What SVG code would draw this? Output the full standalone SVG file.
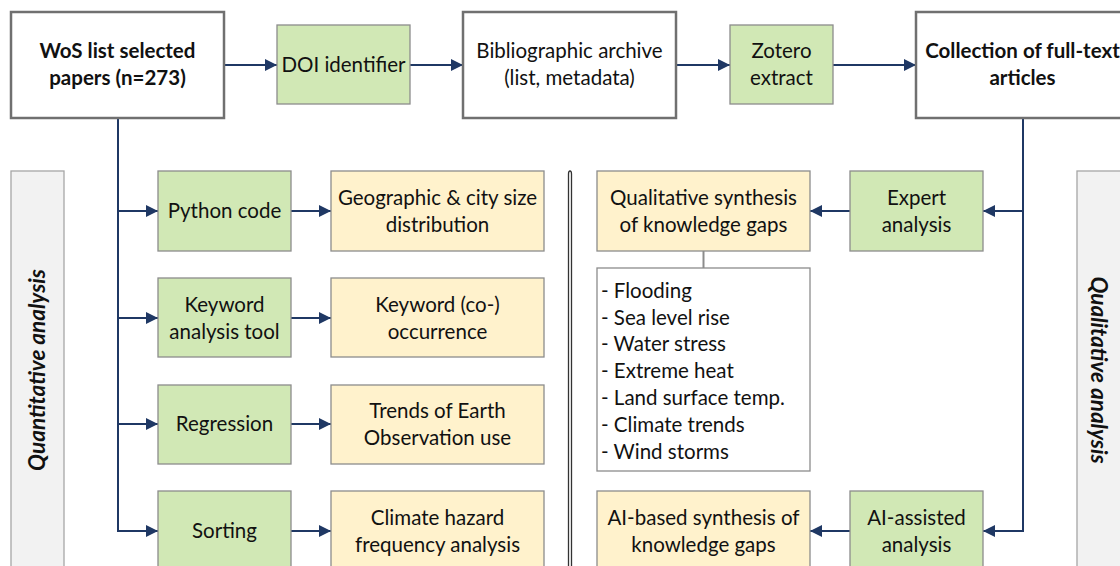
<svg xmlns="http://www.w3.org/2000/svg" width="1120" height="566" viewBox="0 0 1120 566">
<defs>
<marker id="ah" markerUnits="userSpaceOnUse" markerWidth="13" markerHeight="13" refX="12" refY="6.5" orient="auto">
<path d="M0,0.5 L12,6.5 L0,12.5 z" fill="#1f3864"/>
</marker>
<style>
text{font-family:Lato,"Liberation Sans",sans-serif;font-size:20.5px;fill:#111;text-anchor:middle}
.b{font-weight:bold}
.main{fill:#fff;stroke:#707070;stroke-width:2.5}
.g{fill:#d1e8b5;stroke:#8c8c8c;stroke-width:1.3}
.y{fill:#fff2cc;stroke:#8c8c8c;stroke-width:1.3}
.w{fill:#fff;stroke:#8c8c8c;stroke-width:1.3}
.panel{fill:#f2f2f2;stroke:#a6a6a6;stroke-width:1.3}
.c{stroke:#1f3864;stroke-width:2;fill:none}
.a{stroke:#1f3864;stroke-width:2;fill:none;marker-end:url(#ah)}
.lst{text-anchor:start}
.side{font-weight:bold;font-style:italic;font-size:22.5px}
</style>
</defs>
<g id="panel-left"><rect class="panel" x="11" y="171" width="53" height="420"/><text class="side" transform="translate(45,370) rotate(-90)">Quantitative analysis</text></g>
<g id="panel-right"><rect class="panel" x="1077" y="171" width="60" height="420"/><text class="side" transform="translate(1091,370) rotate(90)">Qualitative analysis</text></g>
<g id="divider"><path d="M568.5,600 V174 Q568.5,171 570,171 Q571.5,171 571.5,174 V600" fill="none" stroke="#333" stroke-width="1.3"/></g>
<g id="connectors">
<line class="a" x1="224" y1="65" x2="277" y2="65"/>
<line class="a" x1="410" y1="65" x2="463" y2="65"/>
<line class="a" x1="676" y1="65" x2="730" y2="65"/>
<line class="a" x1="833" y1="65" x2="916" y2="65"/>
<line class="c" x1="118" y1="118" x2="118" y2="532"/>
<line class="a" x1="117" y1="211" x2="158" y2="211"/>
<line class="a" x1="117" y1="318" x2="158" y2="318"/>
<line class="a" x1="117" y1="424" x2="158" y2="424"/>
<line class="a" x1="117" y1="531" x2="158" y2="531"/>
<line class="a" x1="291" y1="211" x2="331" y2="211"/>
<line class="a" x1="291" y1="318" x2="331" y2="318"/>
<line class="a" x1="291" y1="424" x2="331" y2="424"/>
<line class="a" x1="291" y1="531" x2="331" y2="531"/>
<line class="c" x1="1023" y1="118" x2="1023" y2="532"/>
<line class="a" x1="1024" y1="211" x2="983" y2="211"/>
<line class="a" x1="1024" y1="531" x2="983" y2="531"/>
<line class="a" x1="850" y1="211" x2="810" y2="211"/>
<line class="a" x1="850" y1="531" x2="810" y2="531"/>
<line x1="703.5" y1="251" x2="703.5" y2="268" stroke="#8c8c8c" stroke-width="2"/>
</g>
<g id="wos"><rect class="main" x="11" y="12" width="213" height="106"/><text class="b" x="117.5" y="58">WoS list selected</text><text class="b" x="117.5" y="85">papers (n=273)</text></g>
<g id="doi"><rect class="g" x="277" y="25" width="133" height="79"/><text x="343.5" y="72">DOI identifier</text></g>
<g id="biblio"><rect class="main" x="463" y="12" width="213" height="106"/><text x="569.5" y="58">Bibliographic archive</text><text x="569.5" y="85">(list, metadata)</text></g>
<g id="zotero"><rect class="g" x="730" y="25" width="103" height="79"/><text x="781.5" y="58">Zotero</text><text x="781.5" y="85">extract</text></g>
<g id="collection"><rect class="main" x="916" y="12" width="213" height="106"/><text class="b" x="1022.5" y="58">Collection of full-text</text><text class="b" x="1022.5" y="85">articles</text></g>
<g id="python"><rect class="g" x="158" y="171" width="133" height="80"/><text x="224.5" y="218">Python code</text></g>
<g id="geo"><rect class="y" x="331" y="171" width="213" height="80"/><text x="437.5" y="205">Geographic &amp; city size</text><text x="437.5" y="232">distribution</text></g>
<g id="keyword"><rect class="g" x="158" y="278" width="133" height="79"/><text x="224.5" y="312">Keyword</text><text x="224.5" y="339">analysis tool</text></g>
<g id="cooc"><rect class="y" x="331" y="278" width="213" height="79"/><text x="437.5" y="312">Keyword (co-)</text><text x="437.5" y="339">occurrence</text></g>
<g id="regression"><rect class="g" x="158" y="385" width="133" height="79"/><text x="224.5" y="431">Regression</text></g>
<g id="trends"><rect class="y" x="331" y="385" width="213" height="79"/><text x="437.5" y="418">Trends of Earth</text><text x="437.5" y="445">Observation use</text></g>
<g id="sorting"><rect class="g" x="158" y="491" width="133" height="90"/><text x="224.5" y="538">Sorting</text></g>
<g id="hazard"><rect class="y" x="331" y="491" width="213" height="90"/><text x="437.5" y="525">Climate hazard</text><text x="437.5" y="552">frequency analysis</text></g>
<g id="qualsynth"><rect class="y" x="597" y="171" width="213" height="80"/><text x="703.5" y="205">Qualitative synthesis</text><text x="703.5" y="232">of knowledge gaps</text></g>
<g id="expert"><rect class="g" x="850" y="171" width="133" height="80"/><text x="916.5" y="205">Expert</text><text x="916.5" y="232">analysis</text></g>
<g id="list"><rect class="w" x="597" y="268" width="213" height="203"/>
<text class="lst" x="601" y="298">- Flooding</text>
<text class="lst" x="601" y="325">- Sea level rise</text>
<text class="lst" x="601" y="351">- Water stress</text>
<text class="lst" x="601" y="378">- Extreme heat</text>
<text class="lst" x="601" y="405">- Land surface temp.</text>
<text class="lst" x="601" y="432">- Climate trends</text>
<text class="lst" x="601" y="459">- Wind storms</text>
</g>
<g id="aisynth"><rect class="y" x="597" y="491" width="213" height="90"/><text x="703.5" y="525">AI-based synthesis of</text><text x="703.5" y="552">knowledge gaps</text></g>
<g id="aiassist"><rect class="g" x="850" y="491" width="133" height="90"/><text x="916.5" y="525">AI-assisted</text><text x="916.5" y="552">analysis</text></g>
</svg>
